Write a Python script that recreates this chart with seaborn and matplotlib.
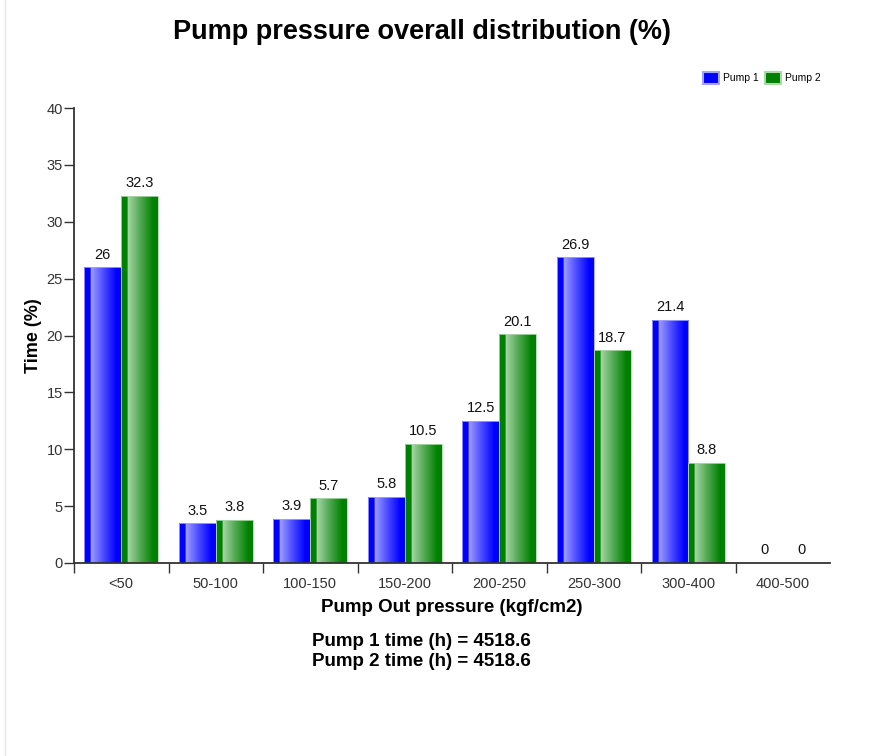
import numpy as np
import pandas as pd
import matplotlib
matplotlib.use("Agg")
import matplotlib.pyplot as plt
import seaborn as sns
from matplotlib.colors import to_rgb
from matplotlib.patches import Patch
from matplotlib.lines import Line2D

# Data
ranges = ['<50', '50-100', '100-150', '150-200', '200-250', '250-300', '300-400', '400-500']
pump1 = [26, 3.5, 3.9, 5.8, 12.5, 26.9, 21.4, 0]
pump2 = [32.3, 3.8, 5.7, 10.5, 20.1, 18.7, 8.8, 0]
series = ['Pump 1', 'Pump 2']
pump1_hours = 4518.6
pump2_hours = 4518.6

df = pd.DataFrame({
    'range': ranges * 2,
    'value': pump1 + pump2,
    'pump': ['Pump 1'] * len(ranges) + ['Pump 2'] * len(ranges),
})

sns.set_style("white")
plt.rcParams['font.family'] = ['Liberation Sans', 'DejaVu Sans']
plt.rcParams['text.color'] = 'black'
plt.rcParams['axes.labelcolor'] = 'black'
plt.rcParams['xtick.color'] = '#333333'
plt.rcParams['ytick.color'] = '#333333'

colors = {'Pump 1': '#0000ff', 'Pump 2': '#008000'}
light = {'Pump 1': '#a4a4ff', 'Pump 2': '#acd8ac'}

fig = plt.figure(figsize=(8.86, 7.56), dpi=100)
ax = fig.add_axes([0.0835, 0.2553, 0.8535, 0.6017])

sns.barplot(data=df, x='range', y='value', hue='pump', order=ranges,
            hue_order=series, palette=colors, width=0.78, ax=ax,
            saturation=1, legend=False, edgecolor='none')


def gradient(name, n=200):
    dark = np.array(to_rgb(colors[name]))
    lt = np.array(to_rgb(light[name]))
    t = np.linspace(0, 1, n)
    img = np.empty((1, n, 3))
    strip = t < 0.18
    frac = np.clip((t - 0.18) / 0.7, 0, 1) ** 0.9
    for k in range(3):
        img[0, :, k] = lt[k] + (dark[k] - lt[k]) * frac
        img[0, strip, k] = dark[k]
    return img


for cont, name in zip(ax.containers, series):
    img = gradient(name)
    for p in cont.patches:
        h = p.get_height()
        if h <= 0:
            continue
        x0, w = p.get_x(), p.get_width()
        im = ax.imshow(img, extent=[x0, x0 + w, 0, h], aspect='auto',
                       zorder=p.get_zorder() + 0.1, interpolation='bilinear')
        im.set_clip_path(p)
        p.set_edgecolor(light[name])
        p.set_linewidth(0.6)
        p.set_zorder(p.get_zorder() + 0.2)
        p.set_facecolor('none')
    ax.bar_label(cont, fmt='%g', padding=4, fontsize=10.5, color='#111111')

ax.set_xlim(-0.5, len(ranges) - 0.5)
ax.set_ylim(0, 40)
ax.set_yticks(np.arange(0, 41, 5))
ax.set_xticks(np.arange(-0.5, len(ranges) - 1, 1), minor=True)
ax.tick_params(axis='x', which='major', bottom=False, length=0, pad=10, labelsize=10.5)
ax.tick_params(axis='x', which='minor', bottom=True, length=7, width=1, direction='out')
ax.tick_params(axis='y', left=True, length=7, width=1, direction='out',
               pad=1, labelsize=10.5)

sns.despine(ax=ax)
for s in ['left', 'bottom']:
    ax.spines[s].set_color('#333333')
    ax.spines[s].set_linewidth(1.3)

ax.set_xlabel('Pump Out pressure (kgf/cm2)', fontsize=13.5, fontweight='bold', labelpad=6)
ax.set_ylabel('Time (%)', fontsize=13, fontweight='bold', labelpad=3)

fig.text(0.476, 0.958, 'Pump pressure overall distribution (%)', ha='center', va='center',
         fontsize=19.5, fontweight='bold')
fig.text(0.476, 0.151, f'Pump 1 time (h) = {pump1_hours}', ha='center', va='center',
         fontsize=13.5, fontweight='bold')
fig.text(0.476, 0.125, f'Pump 2 time (h) = {pump2_hours}', ha='center', va='center',
         fontsize=13.5, fontweight='bold')

handles = [Patch(facecolor=colors[n], edgecolor=light[n], linewidth=1.5) for n in series]
fig.legend(handles, series, loc='center right', bbox_to_anchor=(0.937, 0.897),
           ncol=2, frameon=False, fontsize=7.5, handlelength=1.5, handleheight=1.5,
           handletextpad=0.4, columnspacing=0.6)

fig.add_artist(Line2D([5 / 886, 5 / 886], [0, 1], color='#e6e6e6', linewidth=1))

fig.savefig('out.png', dpi=100)
